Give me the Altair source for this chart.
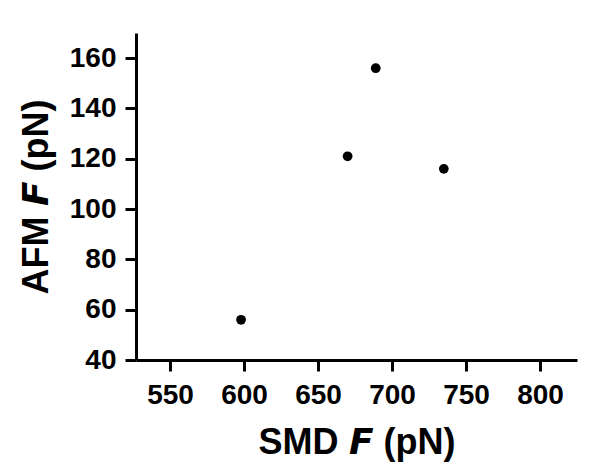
import altair as alt
import pandas as pd

smd_f = [598, 670, 689, 735]
afm_f = [56, 121, 156, 116]
x_ticks = [550, 600, 650, 700, 750, 800]
y_ticks = [40, 60, 80, 100, 120, 140, 160]

df = pd.DataFrame({"smd": smd_f, "afm": afm_f})

axis_common = dict(
    labelFont="Liberation Sans", labelFontWeight="bold", labelFontSize=28,
    labelColor="black", titleFont="Liberation Sans", titleFontWeight="bold",
    titleFontSize=36, titleColor="black", domainColor="black", domainWidth=3,
    tickColor="black", tickWidth=3, tickSize=11, grid=False,
)

chart = alt.Chart(df).mark_circle(size=95, color="black", opacity=1).encode(
    x=alt.X("smd:Q", scale=alt.Scale(domain=[527, 825], nice=False, zero=False),
            axis=alt.Axis(values=x_ticks, title="SMD \U0001D641 (pN)", labelPadding=10,
                          titlePadding=16, **axis_common)),
    y=alt.Y("afm:Q", scale=alt.Scale(domain=[40, 170], nice=False, zero=False),
            axis=alt.Axis(values=y_ticks, title="AFM \U0001D641 (pN)", labelPadding=9,
                          titlePadding=14, **axis_common)),
).properties(width=441, height=327, padding={"left": 10, "top": 25, "right": 5, "bottom": 5}
).configure_view(stroke=None)

chart.save("out.html", embed_options={"renderer": "svg", "actions": False})
